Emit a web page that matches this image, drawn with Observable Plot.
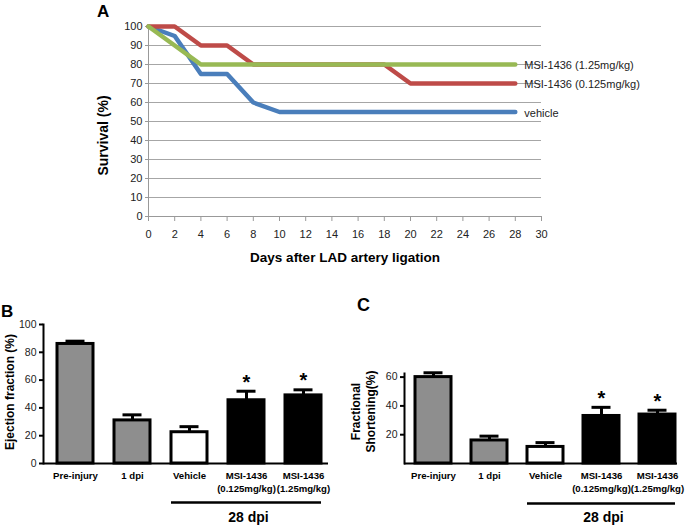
<!DOCTYPE html>
<html><head><meta charset="utf-8">
<script src="https://cdn.jsdelivr.net/npm/d3@7"></script>
<script src="https://cdn.jsdelivr.net/npm/@observablehq/plot@0.6"></script>
<style>
body{margin:0;background:#fff;}
#wrap{position:relative;width:685px;height:525px;overflow:hidden;font-family:"Liberation Sans",Arial,sans-serif;}
.panel{position:absolute;}
.tag{position:absolute;font-weight:bold;line-height:1;color:#000;}
</style></head><body>
<div id="wrap">
  <div id="a" class="panel" style="left:0;top:0"></div>
  <div id="b" class="panel" style="left:0;top:280px"></div>
  <div id="c" class="panel" style="left:345px;top:280px"></div>
  <div class="tag" style="left:97px;top:3px;font-size:17px">A</div>
  <div class="tag" style="left:1px;top:303px;font-size:17px">B</div>
  <div class="tag" style="left:357px;top:296px;font-size:18px">C</div>
</div>
<script>
// ---------- Panel A data ----------
const days = [0,2,4,6,8,10,12,14,16,18,20,22,24,26,28];
const vehicle = [100,95,75,75,60,55,55,55,55,55,55,55,55,55,55];
const msiLow  = [100,100,90,90,80,80,80,80,80,80,70,70,70,70,70];
const msiHigh = [100,90,80,80,80,80,80,80,80,80,80,80,80,80,80];
const seriesNames = ["vehicle","MSI-1436 (0.125mg/kg)","MSI-1436 (1.25mg/kg)"];
const dayTicks = [0,2,4,6,8,10,12,14,16,18,20,22,24,26,28,30];
const survTicks = [0,10,20,30,40,50,60,70,80,90,100];

// ---------- Panels B / C data ----------
const cats = ["Pre-injury","1 dpi","Vehicle","MSI-1436\n(0.125mg/kg)","MSI-1436\n(1.25mg/kg)"];
const groups = ["baseline","baseline","vehicle","treated","treated"];
const efMean = [86,31,22.5,45.5,49];
const efHi   = [88,35,26.5,52,53];
const fsMean = [60,16,11.5,33,34];
const fsHi   = [63,19,14.5,39,37];
const signif = [false,false,false,true,true];
const efTicks = [0,20,40,60,80,100];
const fsTicks = [20,40,60];

const FONT = "'Liberation Sans', Arial, sans-serif";
const mk = (vals, name) => days.map((d,i) => ({day:d, v:vals[i], s:name}));
const vRows = mk(vehicle, seriesNames[0]);
const lRows = mk(msiLow, seriesNames[1]);
const hRows = mk(msiHigh, seriesNames[2]);
const lineColors = ["#4a7ebb","#be4b48","#98b954"];

const A = Plot.plot({
  width: 685, height: 275,
  marginLeft: 148, marginRight: 144, marginTop: 26, marginBottom: 59,
  style: {fontFamily: FONT, fontSize: "11px", background: "transparent", color: "#222"},
  x: {domain: [0,30], axis: null},
  y: {domain: [0,100], axis: null},
  marks: [
    Plot.gridY(survTicks.slice(1), {stroke: "#a6a6a6", strokeOpacity: 1}),
    Plot.ruleY([0], {stroke: "#999"}),
    Plot.ruleX([0], {stroke: "#999"}),
    Plot.axisY({ticks: survTicks, tickSize: 3, tickPadding: 3, stroke: "#999", fill: "#222", label: null, fontSize: 11}),
    Plot.axisX({ticks: dayTicks, tickSize: 5, tickPadding: 9, stroke: "#999", fill: "#222", label: null, fontSize: 11}),
    Plot.line(vRows, {x: "day", y: "v", stroke: lineColors[0], strokeWidth: 4.5}),
    Plot.line(lRows, {x: "day", y: "v", stroke: lineColors[1], strokeWidth: 4.5}),
    Plot.line(hRows, {x: "day", y: "v", stroke: lineColors[2], strokeWidth: 4.5}),
    Plot.text([hRows.at(-1), lRows.at(-1), vRows.at(-1)], {x: "day", y: "v", text: "s", textAnchor: "start", dx: 9, dy: 1, fontSize: 11, fill: "#222"}),
    Plot.text(["Survival (%)"], {frameAnchor: "left", textAnchor: "middle", rotate: -90, dx: -45, dy: 14, fontSize: 14, fontWeight: "bold", fill: "#000"}),
    Plot.text(["Days after LAD artery ligation"], {frameAnchor: "bottom", dy: 45, fontSize: 13.5, fontWeight: "bold", fill: "#000"})
  ]
});
document.getElementById("a").append(A);

function barPanel(means, his, opts) {
  const rows = cats.map((c,i) => ({cat: c, group: groups[i], mean: means[i], hi: his[i], sig: signif[i]}));
  return Plot.plot({
    width: opts.width, height: 245,
    marginLeft: opts.ml, marginRight: opts.mr, marginTop: opts.mt, marginBottom: 62,
    style: {fontFamily: FONT, fontSize: "10.5px", background: "transparent", color: "#000"},
    x: {domain: cats, paddingInner: opts.pi, paddingOuter: opts.po, align: opts.align, axis: null},
    y: {domain: opts.ydom, axis: null},
    color: {domain: ["baseline","vehicle","treated"], range: ["#8e8e8e","#ffffff","#000000"]},
    marks: [
      Plot.frame({anchor: "left", strokeWidth: 2}),
      Plot.axisY({ticks: opts.ticks, tickSize: 4, tickPadding: 3, strokeWidth: 2, fontSize: 10.5, fill: "#222", label: null}),
      Plot.ruleX(rows, {x: "cat", y1: "mean", y2: "hi", strokeWidth: 3}),
      Plot.tickY(rows, {x: "cat", y: "hi", strokeWidth: 3, inset: 8.5}),
      Plot.barY(rows, {x: "cat", y: "mean", fill: "group", stroke: "#000", strokeWidth: 3}),
      Plot.ruleY([0], {strokeWidth: 2}),
      Plot.axisX({tickSize: 0, tickPadding: 6, fontWeight: "bold", fontSize: opts.catFont, lineHeight: 1.4, label: null}),
      Plot.text(rows.filter(d => d.sig), {x: "cat", y: "hi", text: () => "*", dy: -9, fontSize: 20, fontWeight: "bold"}),
      Plot.ruleY([{from: cats[2], to: cats[4]}], {x1: "from", x2: "to", y: () => 0, dy: opts.lineDy, strokeWidth: 2.5}),
      Plot.text([{c: cats[3], t: "28 dpi"}], {x: "c", y: () => 0, text: "t", dy: 54, dx: opts.tdx, fontSize: 14, fontWeight: "bold"}),
      Plot.text([opts.label], {frameAnchor: "left", textAnchor: "middle", rotate: -90, dx: opts.ldx, dy: opts.ldy, fontSize: 12, fontWeight: "bold", lineHeight: 1.25})
    ]
  });
}

document.getElementById("b").append(barPanel(efMean, efHi, {
  width: 345, ml: 43, mr: 17, mt: 44, ydom: [0,100], ticks: efTicks,
  pi: 0.37, po: 0.17, align: 0.645, lineDy: 39, tdx: 2, catFont: 9.6,
  label: "Ejection fraction (%)", ldx: -34, ldy: -2
}));
document.getElementById("c").append(barPanel(fsMean, fsHi, {
  width: 340, ml: 59, mr: 8, mt: 93, ydom: [0,62.5], ticks: fsTicks,
  pi: 0.36, po: 0.1, align: 0.84, lineDy: 40, tdx: 2, catFont: 9.6,
  label: "Fractional\nShortening(%)", ldx: -41.5, ldy: -7
}));
</script>
</body></html>
